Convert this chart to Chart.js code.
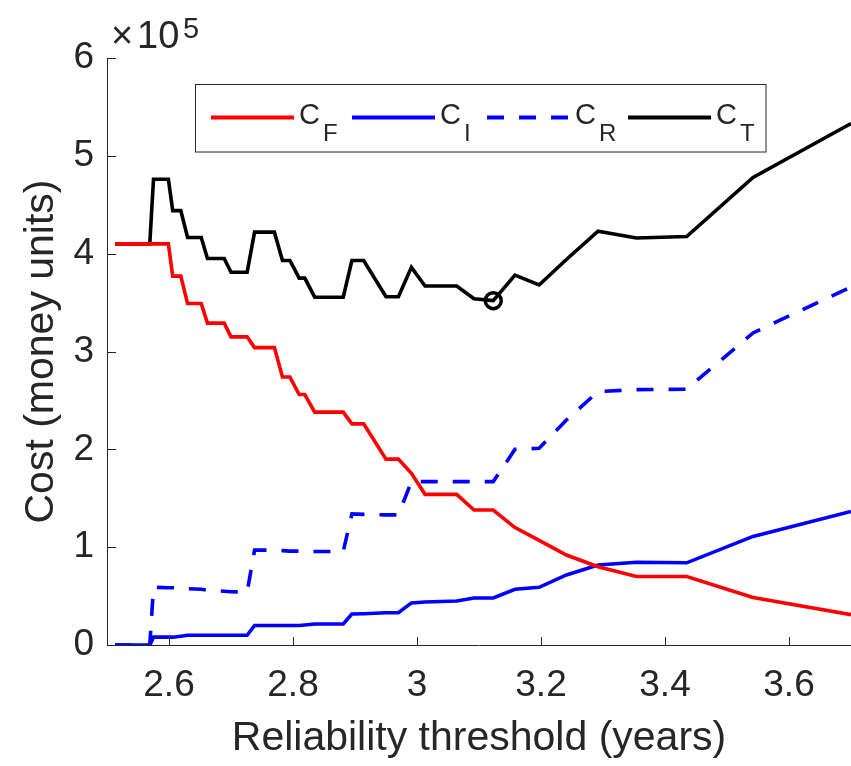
<!DOCTYPE html>
<html><head><meta charset="utf-8">
<script src="https://cdn.jsdelivr.net/npm/chart.js@4.4.1/dist/chart.umd.min.js"></script>
<style>html,body{margin:0;padding:0;background:#fff;} canvas{display:block;}</style>
</head><body>
<canvas id="c" width="851" height="766"></canvas>
<script>
// Reliability threshold (years)
const xValues = [2.513, 2.569, 2.575, 2.599, 2.606, 2.619, 2.630, 2.652, 2.662, 2.689, 2.700, 2.726, 2.738, 2.770, 2.783, 2.795, 2.810, 2.819, 2.835, 2.881, 2.895, 2.914, 2.950, 2.970, 2.991, 3.013, 3.064, 3.092, 3.123, 3.158, 3.197, 3.241, 3.292, 3.354, 3.435, 3.542, 3.700];
// Costs in units of 10^5
const costF = [4.10, 4.10, 4.10, 4.10, 3.77, 3.77, 3.49, 3.49, 3.29, 3.29, 3.15, 3.15, 3.04, 3.04, 2.74, 2.74, 2.56, 2.56, 2.38, 2.38, 2.26, 2.26, 1.90, 1.90, 1.755, 1.54, 1.54, 1.38, 1.38, 1.20, 1.07, 0.92, 0.80, 0.70, 0.70, 0.486, 0.31];
const costI = [0, 0, 0.08, 0.08, 0.08, 0.09, 0.10, 0.10, 0.10, 0.10, 0.10, 0.10, 0.20, 0.20, 0.20, 0.20, 0.20, 0.205, 0.215, 0.215, 0.317, 0.32, 0.33, 0.33, 0.43, 0.44, 0.45, 0.48, 0.48, 0.57, 0.59, 0.716, 0.818, 0.846, 0.84, 1.11, 1.365];
const costR = [0, 0, 0.59, 0.585, 0.585, 0.58, 0.575, 0.57, 0.56, 0.55, 0.545, 0.54, 0.97, 0.97, 0.965, 0.96, 0.96, 0.955, 0.955, 0.955, 1.34, 1.335, 1.33, 1.33, 1.67, 1.67, 1.67, 1.67, 1.67, 2.00, 2.01, 2.30, 2.59, 2.61, 2.615, 3.19, 3.66];
const costT = [4.10, 4.10, 4.76, 4.76, 4.44, 4.44, 4.165, 4.165, 3.95, 3.95, 3.81, 3.81, 4.22, 4.22, 3.93, 3.93, 3.75, 3.75, 3.555, 3.555, 3.93, 3.93, 3.56, 3.56, 3.86, 3.67, 3.67, 3.54, 3.52, 3.78, 3.68, 3.94, 4.23, 4.16, 4.175, 4.78, 5.33];

const xTicks = [2.6, 2.8, 3.0, 3.2, 3.4, 3.6];
const yTicks = [0, 1, 2, 3, 4, 5, 6];
const legendNames = [['C', 'F'], ['C', 'I'], ['C', 'R'], ['C', 'T']];
const xTitle = 'Reliability threshold (years)';
const yTitle = 'Cost (money units)';
const yMultiplier = ['\u00D7', '10', '5'];

const FONT = '"Liberation Sans", Arial, Helvetica, sans-serif';
const AXIS = '#262626';
const colors = ['#ff0000', '#0000ff', '#0000ff', '#000000'];
const dashes = [[], [], [17, 15], []];

const pts = arr => xValues.map((x, i) => ({x: x, y: arr[i]}));
let minIdx = 0;
costT.forEach((v, i) => { if (v < costT[minIdx]) minIdx = i; });

const series = [costF, costI, costR, costT];
const datasets = series.map((arr, k) => ({
  label: legendNames[k].join('_'),
  data: pts(arr),
  borderColor: colors[k],
  borderWidth: 3.6,
  borderDash: dashes[k],
  pointRadius: 0,
  tension: 0,
  fill: false
}));
datasets.push({
  label: 'min',
  data: [{x: xValues[minIdx], y: costT[minIdx]}],
  showLine: false,
  pointRadius: 8,
  pointBorderWidth: 3.5,
  pointBorderColor: '#000',
  pointBackgroundColor: 'rgba(0,0,0,0)'
});

const decor = {
  id: 'decor',
  afterDatasetsDraw(chart) {
    const {ctx, chartArea: ca, scales: {x, y}} = chart;
    ctx.save();
    ctx.strokeStyle = AXIS; ctx.lineWidth = 1; ctx.setLineDash([]);
    x.ticks.forEach(t => {
      const px = Math.round(x.getPixelForValue(t.value)) + 0.5;
      ctx.beginPath(); ctx.moveTo(px, ca.bottom); ctx.lineTo(px, ca.bottom - 8); ctx.stroke();
    });
    y.ticks.forEach(t => {
      const py = Math.round(y.getPixelForValue(t.value)) + 0.5;
      ctx.beginPath(); ctx.moveTo(ca.left, py); ctx.lineTo(ca.left + 9, py); ctx.stroke();
    });
    // multiplier
    ctx.fillStyle = AXIS; ctx.textBaseline = 'alphabetic'; ctx.textAlign = 'left';
    ctx.font = '38px ' + FONT;
    ctx.fillText(yMultiplier[0], 111, 48);
    ctx.fillText(yMultiplier[1], 137, 48);
    ctx.font = '29px ' + FONT;
    ctx.fillText(yMultiplier[2], 183, 38);
    // legend
    const bx = 195.5, by = 84.5, bw = 570.5, bh = 67.5;
    ctx.fillStyle = '#fff'; ctx.fillRect(bx, by, bw, bh);
    ctx.strokeStyle = AXIS; ctx.lineWidth = 1; ctx.strokeRect(bx, by, bw, bh);
    const starts = [211, 352, 487, 628];
    legendNames.forEach((nm, k) => {
      const x0 = starts[k], x1 = x0 + 83, ly = 117.5;
      ctx.strokeStyle = colors[k]; ctx.lineWidth = 3.8; ctx.setLineDash(dashes[k]);
      ctx.beginPath(); ctx.moveTo(x0, ly); ctx.lineTo(x1, ly); ctx.stroke();
      ctx.setLineDash([]);
      ctx.fillStyle = AXIS;
      ctx.font = '29px ' + FONT;
      const tx = x1 + 5;
      ctx.fillText(nm[0], tx, 124);
      const cw = ctx.measureText(nm[0]).width;
      ctx.font = '24px ' + FONT;
      ctx.fillText(nm[1], tx + cw + 3, 141);
    });
    ctx.restore();
  }
};

new Chart(document.getElementById('c'), {
  type: 'line',
  data: {datasets: datasets},
  options: {
    responsive: false,
    devicePixelRatio: 1,
    animation: false,
    layout: {autoPadding: false, padding: {top: 58, right: 0, left: 0, bottom: 0}},
    plugins: {legend: {display: false}, tooltip: {enabled: false}},
    scales: {
      x: {
        type: 'linear', min: 2.5, max: 3.7,
        afterBuildTicks: s => { s.ticks = xTicks.map(v => ({value: v})); },
        afterFit: s => { s.height = 121; s.paddingLeft = 0; s.paddingRight = 0; },
        grid: {display: false, drawTicks: false},
        border: {display: true, color: AXIS, width: 1},
        ticks: {padding: 19, color: AXIS, font: {family: FONT, size: 37}, maxRotation: 0,
          callback: v => String(Math.round(v * 10) / 10)},
        title: {display: true, text: xTitle, color: AXIS, font: {family: FONT, size: 41}, padding: {top: 0, bottom: 3}}
      },
      y: {
        type: 'linear', min: 0, max: 6,
        afterBuildTicks: s => { s.ticks = yTicks.map(v => ({value: v})); },
        afterFit: s => { s.width = 107; s.paddingTop = 0; s.paddingBottom = 0; },
        grid: {display: false, drawTicks: false},
        border: {display: true, color: AXIS, width: 1},
        ticks: {padding: 13, color: AXIS, font: {family: FONT, size: 37}, callback: v => String(v)},
        title: {display: true, text: yTitle, color: AXIS, font: {family: FONT, size: 41}, padding: {top: 17, bottom: 0}}
      }
    }
  },
  plugins: [decor]
});
</script>
</body></html>
